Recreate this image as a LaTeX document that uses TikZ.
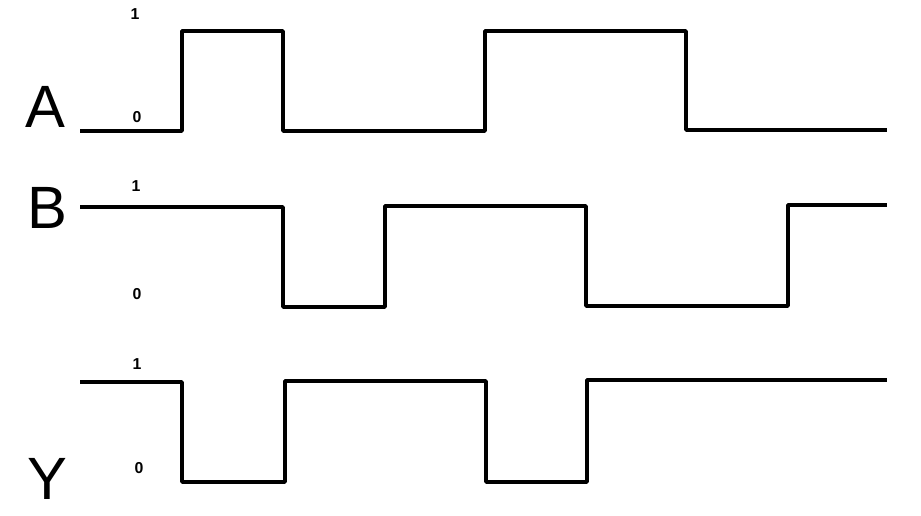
\documentclass[tikz,border=0pt]{standalone}
\usepackage{fontspec}
\setmainfont{Liberation Sans}
\begin{document}
\begin{tikzpicture}[x=0.02cm, y=-0.02cm, line width=2.1pt, line join=round,
    sig/.style={font=\fontsize{34}{34}\selectfont, inner sep=0pt},
    lvl/.style={font=\fontsize{9}{9}\selectfont\bfseries, inner sep=0pt}]
  \useasboundingbox (0,0) rectangle (921,516);
  \draw (80,131) -- (182,131) -- (182,31) -- (283,31) -- (283,131) -- (485,131) -- (485,31) -- (686,31) -- (686,130) -- (887,130);
  \draw (80,207) -- (283,207) -- (283,307) -- (385,307) -- (385,206) -- (586,206) -- (586,306) -- (788,306) -- (788,205) -- (887,205);
  \draw (80,382) -- (182,382) -- (182,482) -- (285,482) -- (285,381) -- (486,381) -- (486,482) -- (587,482) -- (587,380) -- (887,380);
  \node[sig] (A) at (45,107) {A};
  \node[sig] (B) at (47,208) {B};
  \node[sig] (Y) at (47,479) {Y};
  \node[lvl] (a1) at (135,14) {1};
  \node[lvl] (a0) at (137,117) {0};
  \node[lvl] (b1) at (136,186) {1};
  \node[lvl] (b0) at (137,294) {0};
  \node[lvl] (y1) at (137,364) {1};
  \node[lvl] (y0) at (139,468) {0};
\end{tikzpicture}
\end{document}
